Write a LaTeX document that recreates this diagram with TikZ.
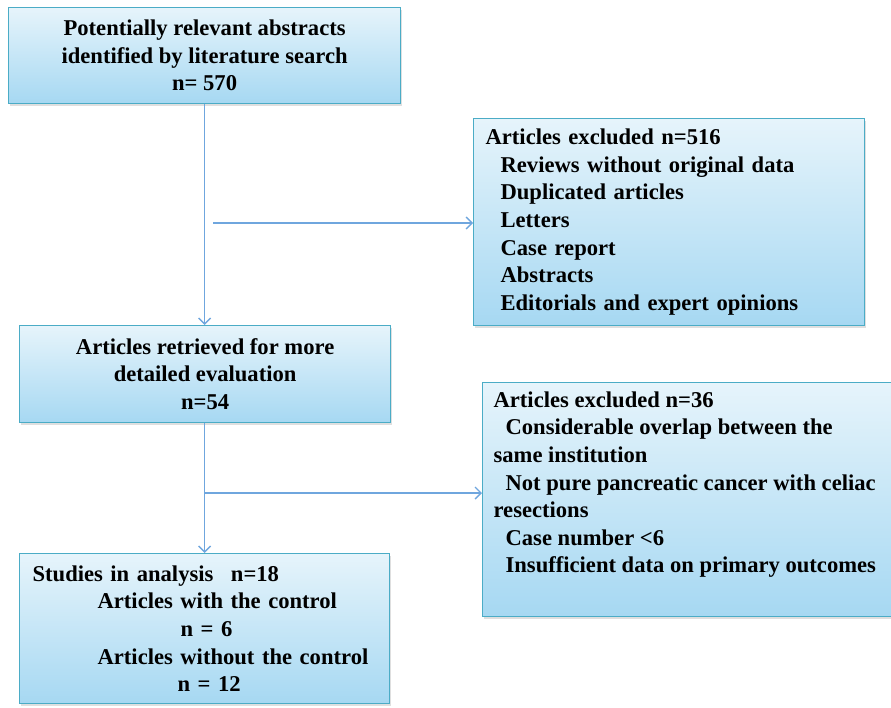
\documentclass[tikz,border=0pt]{standalone}
\usepackage{fontspec}
\setmainfont{Liberation Serif}
\usepackage{tikz}
\usetikzlibrary{arrows.meta,positioning,shadows}
\definecolor{boxline}{HTML}{4BACC6}
\definecolor{boxtop}{HTML}{E6F4FB}
\definecolor{boxbot}{HTML}{A6D8F2}
\definecolor{arrline}{HTML}{6FA6DE}
\begin{document}
\begin{tikzpicture}[x=1pt,y=-1pt,inner sep=0pt]
  \tikzstyle{b}=[draw=boxline,line width=1.2pt,top color=boxtop,bottom color=boxbot,anchor=north west,
    drop shadow={shadow xshift=1.5pt,shadow yshift=-2pt,fill=black!25},
    font=\fontsize{22.6}{27.6}\selectfont\bfseries]
  \tikzstyle{e}=[-{Straight Barb[length=6pt,width=12pt]},draw=arrline,line width=1.4pt]
  \useasboundingbox (0,0) rectangle (891,707);
  \node[b,minimum width=392pt,minimum height=96pt,align=center](search)at(8,7){Potentially relevant abstracts\\identified by literature search\\n= 570};
  \node[b,minimum width=371pt,minimum height=97pt,align=center](retrieved)at(19,325){Articles retrieved for more\\detailed evaluation\\n=54};
  \node[b,minimum width=391pt,minimum height=207pt,inner xsep=12pt,text width=367pt,align=left](excl1)at(473,118){Articles excluded n=516\\
    \hspace*{15pt}Reviews without original data\\
    \hspace*{15pt}Duplicated articles\\
    \hspace*{15pt}Letters\\
    \hspace*{15pt}Case report\\
    \hspace*{15pt}Abstracts\\
    \hspace*{15pt}Editorials and expert opinions};
  \node[b,minimum width=412pt,minimum height=234pt,inner xsep=11pt](excl2)at(482,382){\parbox[t][216pt][t]{390pt}{\raggedright
    Articles excluded n=36\\
    \hspace*{12pt}Considerable overlap between the\\
    same institution\\
    \hspace*{12pt}Not pure pancreatic cancer with celiac\\
    resections\\
    \hspace*{12pt}Case number <6\\
    \hspace*{12pt}Insufficient data on primary outcomes}};
  \node[b,minimum width=370pt,minimum height=150pt,inner xsep=13pt,text width=344pt,align=left](analysis)at(19,553){Studies in analysis\hspace{10pt} n=18\\
    \hspace*{65pt}Articles with the control\\
    \hspace*{148pt}n = 6\\
    \hspace*{65pt}Articles without the control\\
    \hspace*{145pt}n = 12};
  % connectors
  \coordinate(s1)at(213,223);
  \coordinate(s2)at(204,493);
  \draw[e](search.south)--(search.south|-retrieved.north);
  \draw[e](search.south|-retrieved.south)--(search.south|-analysis.north);
  \draw[e](s1)--(s1-|excl1.west);
  \draw[e](s2)--(s2-|excl2.west);
\end{tikzpicture}
\end{document}
